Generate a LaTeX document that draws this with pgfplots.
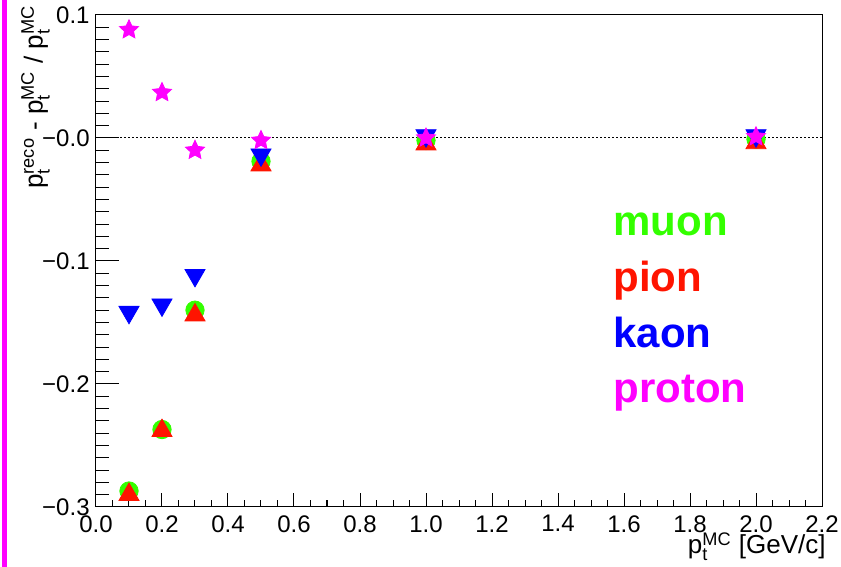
\documentclass[border=0pt]{standalone}
\usepackage{fontspec}
\setmainfont{Liberation Sans}
\usepackage{amsmath}
\usepackage{pgfplots}
\pgfplotsset{compat=1.18}
\definecolor{mgreen}{RGB}{51,255,0}
\definecolor{mred}{RGB}{255,20,0}
\definecolor{mblue}{RGB}{0,0,255}
\definecolor{mmag}{RGB}{255,0,255}
\pgfdeclareplotmark{fstar}{%
  \pgfpathmoveto{\pgfpointpolar{90}{\pgfplotmarksize}}%
  \pgfpathlineto{\pgfpointpolar{126}{0.48\pgfplotmarksize}}%
  \pgfpathlineto{\pgfpointpolar{162}{\pgfplotmarksize}}%
  \pgfpathlineto{\pgfpointpolar{198}{0.48\pgfplotmarksize}}%
  \pgfpathlineto{\pgfpointpolar{234}{\pgfplotmarksize}}%
  \pgfpathlineto{\pgfpointpolar{270}{0.48\pgfplotmarksize}}%
  \pgfpathlineto{\pgfpointpolar{306}{\pgfplotmarksize}}%
  \pgfpathlineto{\pgfpointpolar{342}{0.48\pgfplotmarksize}}%
  \pgfpathlineto{\pgfpointpolar{18}{\pgfplotmarksize}}%
  \pgfpathlineto{\pgfpointpolar{54}{0.48\pgfplotmarksize}}%
  \pgfpathclose
  \pgfusepathqfillstroke
}
\pgfplotstableread{
x y
0.1 -0.287
0.2 -0.237
0.3 -0.140
0.5 -0.019
1.0 -0.002
2.0 -0.001
}\muon
\pgfplotstableread{
x y
0.1 -0.290
0.2 -0.238
0.3 -0.144
0.5 -0.022
1.0 -0.005
2.0 -0.004
}\pion
\pgfplotstableread{
x y
0.1 -0.1416
0.2 -0.1356
0.3 -0.1116
0.5 -0.0136
1.0 0.002
2.0 0.002
}\kaon
\pgfplotstableread{
x y
0.1 0.088
0.2 0.037
0.3 -0.010
0.5 -0.002
1.0 0.000
2.0 0.001
}\proton
\begin{document}
\begin{tikzpicture}
\path[use as bounding box] (0,0) rectangle (420.5pt,283.5pt);
\fill[mmag] (1pt,0) rectangle (3.5pt,283.5pt);
\begin{axis}[
  at={(48pt,30pt)}, anchor=south west,
  scale only axis, width=363pt, height=246pt,
  xmin=0, xmax=2.2, ymin=-0.3, ymax=0.1,
  axis line style={line width=0.5pt, black},
  tick align=inside, tick pos=left,
  tick style={line width=0.5pt, black},
  xtick={0,0.2,0.4,0.6,0.8,1.0,1.2,1.4,1.6,1.8,2.0,2.2},
  xticklabels={0.0,0.2,0.4,0.6,0.8,1.0,1.2,1.4,1.6,1.8,2.0,2.2},
  ytick={-0.3,-0.2,-0.1,0,0.1},
  yticklabels={−0.3,−0.2,−0.1,−0.0,0.1},
  minor x tick num=3, minor y tick num=9,
  xtick style={/pgfplots/major tick length=7pt, /pgfplots/minor tick length=3.5pt},
  ytick style={/pgfplots/major tick length=11.5pt, /pgfplots/minor tick length=6.5pt},
  tick label style={font=\fontsize{12}{14}\selectfont},
  xticklabel style={inner sep=0pt, anchor=north, yshift=-4pt},
  yticklabel style={inner sep=0pt, anchor=east, xshift=-3pt},
  xlabel={$\text{p}_{\text{t}}^{\text{MC}}$ [GeV/c]},
  xlabel style={font=\fontsize{13}{15}\selectfont, at={(rel axis cs:1.0055,0)}, anchor=north east, inner sep=0pt, yshift=-12.5pt},
  ylabel={$\text{p}_{\text{t}}^{\text{reco}}\text{ - }\text{p}_{\text{t}}^{\text{MC}}\text{ / }\text{p}_{\text{t}}^{\text{MC}}$},
  ylabel style={font=\fontsize{13}{15}\selectfont, at={(rel axis cs:-0.063,1.02)}, anchor=south east, inner sep=0pt},
]
\addplot[black, line width=0.5pt, dash pattern=on 1pt off 1pt] coordinates {(0,0) (2.2,0)};
\addplot[only marks, mark=*, mark size=4.6pt, draw=mgreen, fill=mgreen] table {\muon};
\addplot[only marks, mark=triangle*, mark size=5.8pt, draw=mred, fill=mred] table {\pion};
\addplot[only marks, mark=triangle*, mark size=5.8pt, mark options={rotate=180}, draw=mblue, fill=mblue] table {\kaon};
\addplot[only marks, mark=fstar, mark size=5pt, draw=mmag, fill=mmag] table {\proton};
\node[anchor=base west, inner sep=0pt, text=mgreen, font=\fontsize{21}{25}\selectfont\bfseries] at (axis cs:1.567,-0.0789) {muon};
\node[anchor=base west, inner sep=0pt, text=mred, font=\fontsize{21}{25}\selectfont\bfseries] at (axis cs:1.567,-0.1252) {pion};
\node[anchor=base west, inner sep=0pt, text=mblue, font=\fontsize{21}{25}\selectfont\bfseries] at (axis cs:1.567,-0.1707) {kaon};
\node[anchor=base west, inner sep=0pt, text=mmag, font=\fontsize{21}{25}\selectfont\bfseries] at (axis cs:1.567,-0.2154) {proton};
\end{axis}
\end{tikzpicture}
\end{document}
